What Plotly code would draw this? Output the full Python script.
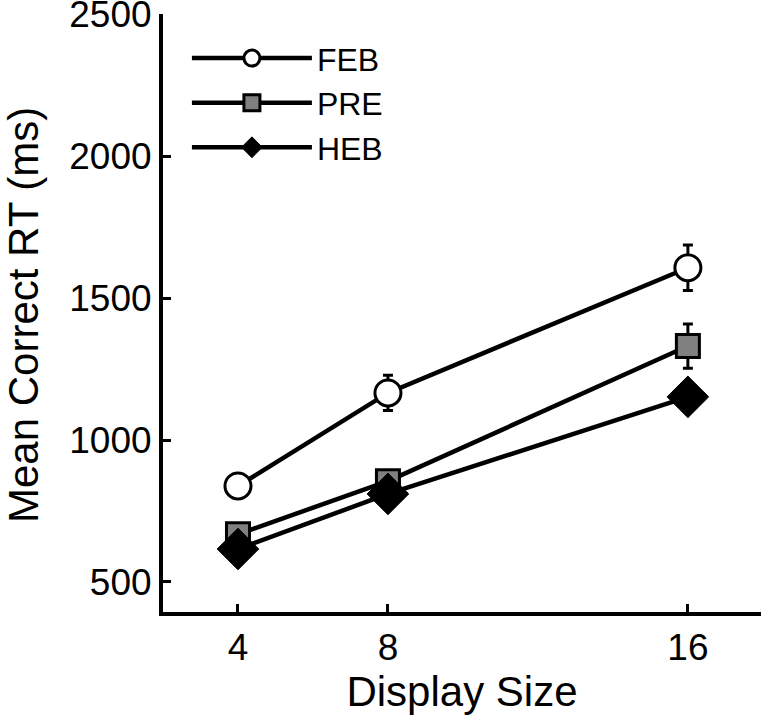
import plotly.graph_objects as go

display_sizes = [4, 8, 16]
tick_vals_y = [500, 1000, 1500, 2000, 2500]

feb_rt = [838, 1166, 1607]
feb_err = [35, 62, 80]
pre_rt = [668, 855, 1331]
pre_err = [30, 35, 78]
heb_rt = [616, 810, 1152]
heb_err = [35, 40, 50]

FONT = "Liberation Sans, Arial, Helvetica, sans-serif"

series = [
    ("FEB", feb_rt, feb_err, dict(symbol="circle", size=26, color="white",
                                  line=dict(color="black", width=3))),
    ("PRE", pre_rt, pre_err, dict(symbol="square", size=23, color="#808080",
                                  line=dict(color="black", width=3))),
    ("HEB", heb_rt, heb_err, dict(symbol="diamond", size=32, color="black",
                                  line=dict(color="black", width=1))),
]

fig = go.Figure()
for name, vals, errs, marker in series:
    fig.add_trace(go.Scatter(
        x=display_sizes, y=vals, name=name, mode="lines+markers",
        line=dict(color="black", width=4.5),
        marker=marker,
        error_y=dict(type="data", array=errs, visible=True,
                     color="black", thickness=3, width=5),
    ))

fig.update_layout(
    width=761, height=718,
    paper_bgcolor="white", plot_bgcolor="white",
    margin=dict(l=163, r=0, t=14, b=106),
    font=dict(family=FONT, color="black", size=37),
    showlegend=True,
    legend=dict(x=0.04, y=0.972, xanchor="left", yanchor="top",
                font=dict(size=32, family=FONT), itemwidth=120,
                tracegroupgap=0, bgcolor="rgba(0,0,0,0)",
                itemsizing="trace"),
    xaxis=dict(
        range=[2, 17.95], tickvals=display_sizes, ticktext=[str(v) for v in display_sizes],
        showline=True, linecolor="black", linewidth=4, mirror=False,
        ticks="inside", ticklen=8, tickwidth=3, tickcolor="black",
        showgrid=False, zeroline=False, automargin=False,
        ticklabeloverflow="allow",
        tickfont=dict(size=37, family=FONT),
        title=dict(text="Display Size", font=dict(size=42, family=FONT), standoff=8),
    ),
    yaxis=dict(
        range=[394, 2501], tickvals=tick_vals_y,
        showline=True, linecolor="black", linewidth=4, mirror=False,
        ticks="inside", ticklen=8, tickwidth=3, tickcolor="black",
        showgrid=False, zeroline=False, automargin=False,
        ticklabeloverflow="allow",
        tickfont=dict(size=37, family=FONT),
    ),
    annotations=[dict(
        text="Mean Correct RT (ms)", textangle=-90, showarrow=False,
        xref="paper", yref="paper", x=0, y=0.5, xanchor="center", yanchor="middle",
        xshift=-140, yshift=-2, font=dict(size=42, family=FONT, color="black"),
    )],
)

fig.write_html("out.html", config={"displayModeBar": False},
               post_script="document.body.style.margin='0';document.body.style.overflow='hidden';")
